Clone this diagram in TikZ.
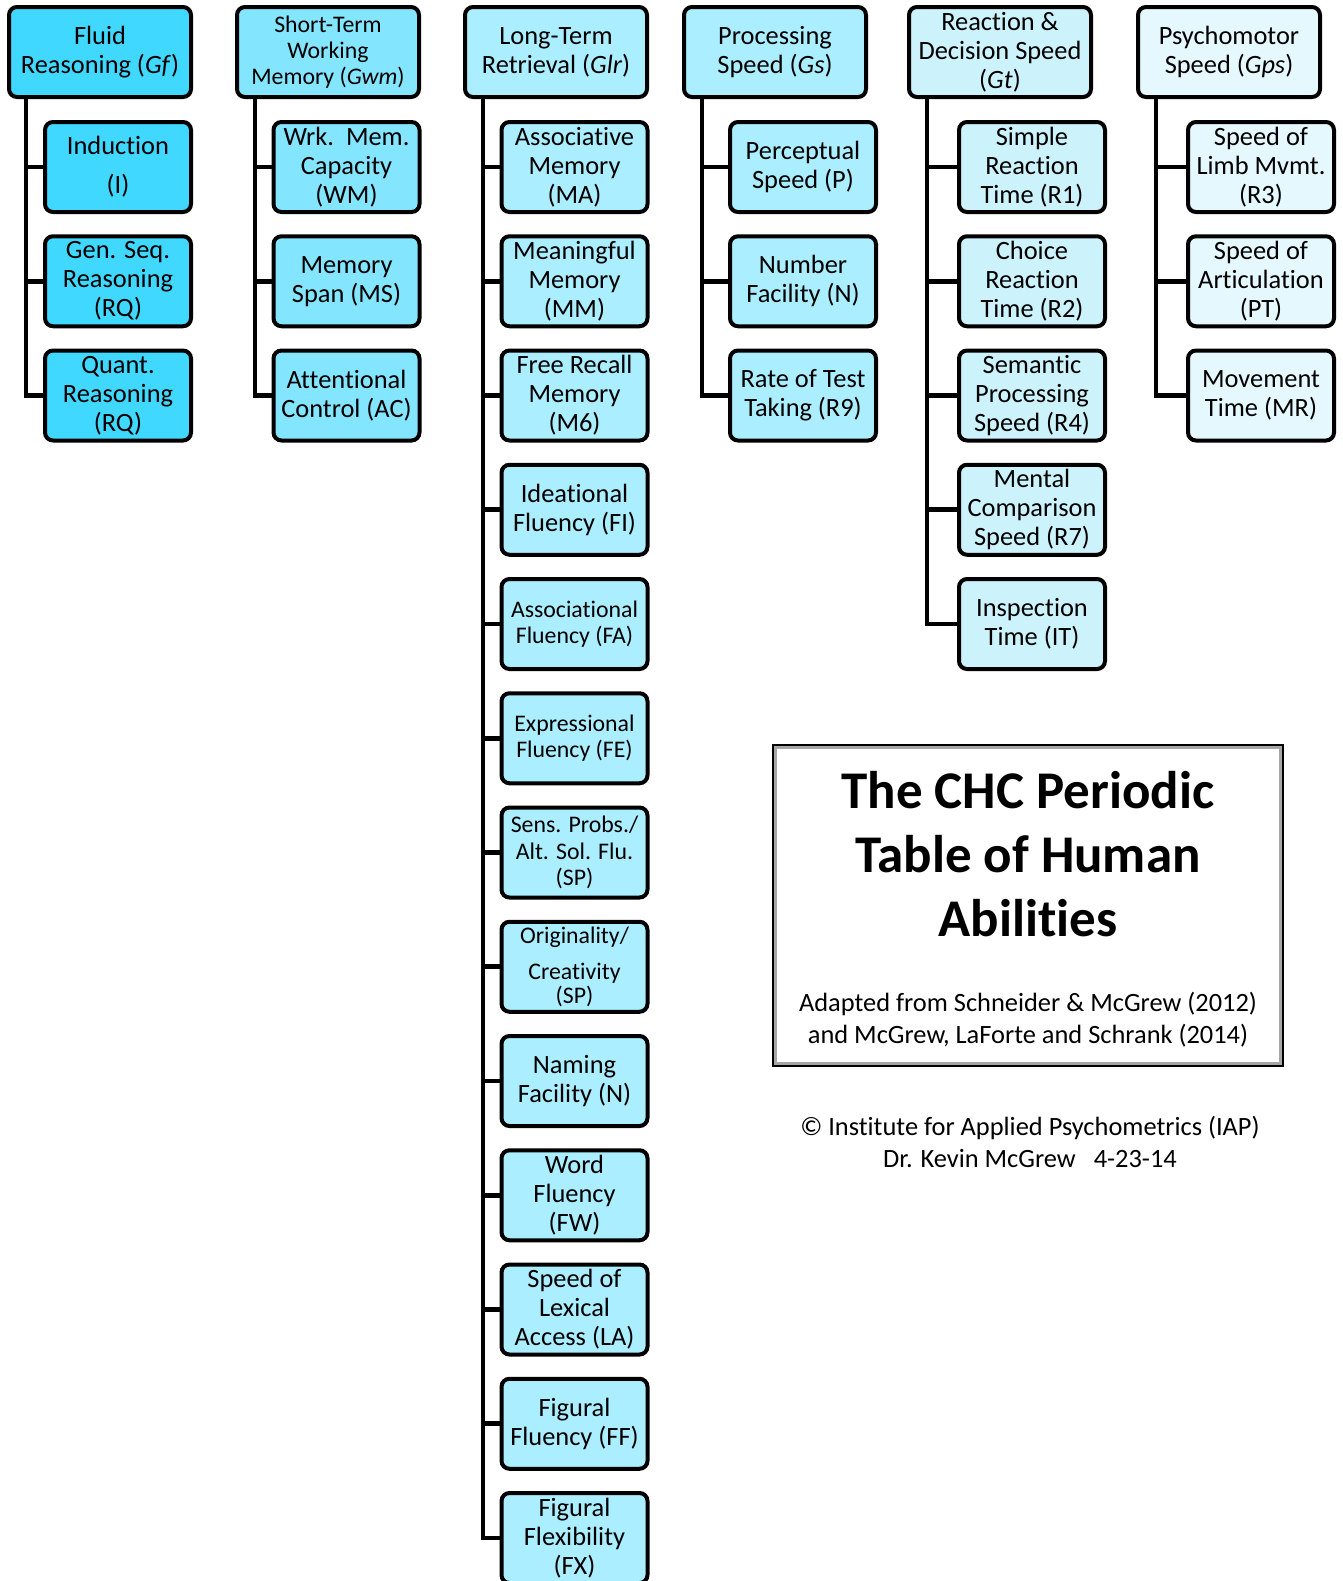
\documentclass[tikz,border=0pt]{standalone}
\usepackage{fontspec}
\setmainfont{Carlito}[Ligatures=NoCommon]
\definecolor{cGf}{RGB}{64,216,255}
\definecolor{cGwm}{RGB}{132,229,255}
\definecolor{cGlr}{RGB}{170,238,255}
\definecolor{cGs}{RGB}{170,238,255}
\definecolor{cGt}{RGB}{204,242,252}
\definecolor{cGps}{RGB}{229,248,254}
\newcommand\bxf{\fontsize{13.2}{14.5}\selectfont}
\newcommand\bxs{\fontsize{11.9}{13.1}\selectfont}
\tikzset{
  hbox/.style={draw=black, line width=2pt, rounded corners=4pt, minimum width=91pt, minimum height=45pt, inner sep=0pt, align=center, font=\bxf},
  cbox/.style={draw=black, line width=2pt, rounded corners=4pt, minimum width=73pt, minimum height=45pt, inner sep=0pt, align=center, font=\bxf},
  small/.style={font=\bxs},
  trunk/.style={draw=black, line width=2.4pt, line join=miter},
}
\begin{document}
\begin{tikzpicture}[x=0.5pt,y=-0.5pt]
\useasboundingbox (0,0) rectangle (1343,1581);
\clip (0,0) rectangle (1343,1581);
% trunk x positions
\coordinate (gfx) at (26,0);
\coordinate (gwmx) at (255,0);
\coordinate (glrx) at (483,0);
\coordinate (gsx) at (702,0);
\coordinate (gtx) at (927,0);
\coordinate (gpsx) at (1156,0);
% headers
\node[hbox, fill=cGf] (gf) at (100,52) {Fluid\\Reasoning (\textit{Gf})};
\node[hbox, fill=cGwm, small] (gwm) at (328,52) {Short-Term\\Working\\Memory (\textit{Gwm})};
\node[hbox, fill=cGlr] (glr) at (556,52) {Long-Term\\Retrieval (\textit{Glr})};
\node[hbox, fill=cGs] (gs) at (775,52) {Processing\\Speed (\textit{Gs})};
\node[hbox, fill=cGt] (gt) at (1000,52) {Reaction \&\\Decision Speed\\(\textit{Gt})};
\node[hbox, fill=cGps] (gps) at (1229,52) {Psychomotor\\Speed (\textit{Gps})};
% Gf children
\node[cbox, fill=cGf] (gf1) at (118,167) {Induction\\[5pt](I)};
\node[cbox, fill=cGf] (gf2) at (118,281.25) {Gen. Seq.\\Reasoning\\(RQ)};
\node[cbox, fill=cGf] (gf3) at (118,395.5) {Quant.\\Reasoning\\(RQ)};
% Gwm children
\node[cbox, fill=cGwm] (gwm1) at (346.5,167) {Wrk.\ \ Mem.\\Capacity\\(WM)};
\node[cbox, fill=cGwm] (gwm2) at (346.5,281.25) {Memory\\Span (MS)};
\node[cbox, fill=cGwm] (gwm3) at (346.5,395.5) {Attentional\\Control (AC)};
% Glr children
\node[cbox, fill=cGlr] (glr1) at (574.5,167) {Associative\\Memory\\(MA)};
\node[cbox, fill=cGlr] (glr2) at (574.5,281.25) {Meaningful\\Memory\\(MM)};
\node[cbox, fill=cGlr] (glr3) at (574.5,395.5) {Free Recall\\Memory\\(M6)};
\node[cbox, fill=cGlr] (glr4) at (574.5,509.75) {Ideational\\Fluency (FI)};
\node[cbox, fill=cGlr, small] (glr5) at (574.5,624) {Associational\\Fluency (FA)};
\node[cbox, fill=cGlr, small] (glr6) at (574.5,738.25) {Expressional\\Fluency (FE)};
\node[cbox, fill=cGlr, small] (glr7) at (574.5,852.5) {Sens. Probs./\\Alt. Sol. Flu.\\(SP)};
\node[cbox, fill=cGlr, small] (glr8) at (574.5,966.75) {Originality/\\[5pt]Creativity\\[-1pt](SP)};
\node[cbox, fill=cGlr] (glr9) at (574.5,1081) {Naming\\Facility (N)};
\node[cbox, fill=cGlr] (glr10) at (574.5,1195.25) {Word\\Fluency\\(FW)};
\node[cbox, fill=cGlr] (glr11) at (574.5,1309.5) {Speed of\\Lexical\\Access (LA)};
\node[cbox, fill=cGlr] (glr12) at (574.5,1423.75) {Figural\\Fluency (FF)};
\node[cbox, fill=cGlr] (glr13) at (574.5,1538) {Figural\\Flexibility\\(FX)};
% Gs children
\node[cbox, fill=cGs] (gs1) at (803,167) {Perceptual\\Speed (P)};
\node[cbox, fill=cGs] (gs2) at (803,281.25) {Number\\Facility (N)};
\node[cbox, fill=cGs] (gs3) at (803,395.5) {Rate of Test\\Taking (R9)};
% Gt children
\node[cbox, fill=cGt] (gt1) at (1032,167) {Simple\\Reaction\\Time (R1)};
\node[cbox, fill=cGt] (gt2) at (1032,281.25) {Choice\\Reaction\\Time (R2)};
\node[cbox, fill=cGt] (gt3) at (1032,395.5) {Semantic\\Processing\\Speed (R4)};
\node[cbox, fill=cGt] (gt4) at (1032,509.75) {Mental\\Comparison\\Speed (R7)};
\node[cbox, fill=cGt] (gt5) at (1032,624) {Inspection\\Time (IT)};
% Gps children
\node[cbox, fill=cGps] (gps1) at (1261,167) {Speed of\\Limb Mvmt.\\(R3)};
\node[cbox, fill=cGps] (gps2) at (1261,281.25) {Speed of\\Articulation\\(PT)};
\node[cbox, fill=cGps] (gps3) at (1261,395.5) {Movement\\Time (MR)};
% trunks
\draw[trunk] (gf.south -| gfx) |- (gf3.west);
\draw[trunk] (gwm.south -| gwmx) |- (gwm3.west);
\draw[trunk] (glr.south -| glrx) |- (glr13.west);
\draw[trunk] (gs.south -| gsx) |- (gs3.west);
\draw[trunk] (gt.south -| gtx) |- (gt5.west);
\draw[trunk] (gps.south -| gpsx) |- (gps3.west);
% branches
\foreach \p/\n in {gf/gf1,gf/gf2,gwm/gwm1,gwm/gwm2,gs/gs1,gs/gs2,gps/gps1,gps/gps2,gt/gt1,gt/gt2,gt/gt3,gt/gt4}
  \draw[trunk] (\n.west -| \p x) -- (\n.west);
\foreach \i in {1,...,12}
  \draw[trunk] (glr\i.west -| glrx) -- (glr\i.west);
% title box
\node[draw=gray!70, line width=2.2pt, minimum width=253pt, minimum height=158.5pt, inner sep=0pt] (tbox) at (1028,905.5) {};
\draw[black, line width=1.1pt] (tbox.south west) rectangle (tbox.north east);
\node[font=\fontsize{26.5}{32}\selectfont\bfseries, align=center] (ttl) at (1028,854) {The CHC Periodic\\Table of Human\\Abilities};
\node[font=\fontsize{13.2}{16}\selectfont, align=center] (sub) at (1028,1020) {Adapted from Schneider \& McGrew (2012)\\and McGrew, LaForte and Schrank (2014)};
\node[font=\fontsize{13.2}{16}\selectfont, align=center] (copy) at (1030,1142) {© Institute for Applied Psychometrics (IAP)\\Dr. Kevin McGrew\ \ \ 4-23-14};
\end{tikzpicture}
\end{document}
